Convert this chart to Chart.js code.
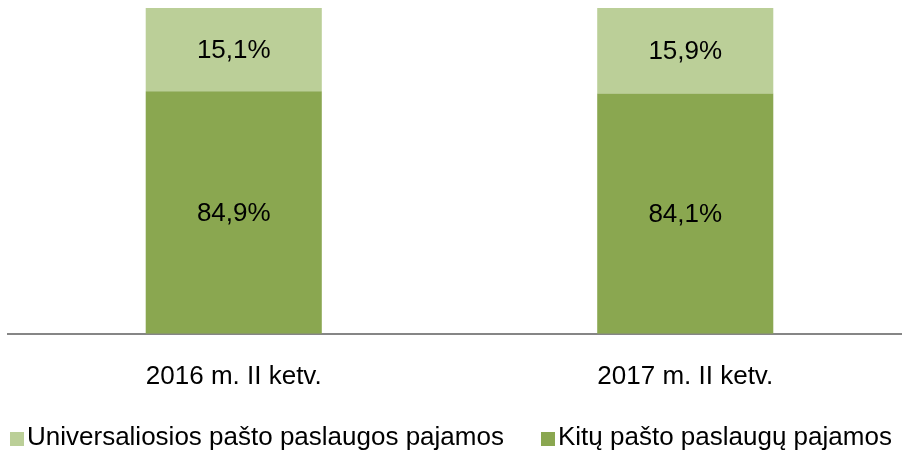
<!DOCTYPE html>
<html>
<head>
<meta charset="utf-8">
<script src="https://cdn.jsdelivr.net/npm/chart.js@4/dist/chart.umd.min.js"></script>
<style>
  html, body { margin: 0; padding: 0; background: #fff; overflow: hidden; }
  #wrap { position: relative; width: 911px; height: 460px; }
  #legend { position: absolute; left: 0; top: 421px; height: 30px; width: 911px;
            font: 26px "Liberation Sans", Arial, sans-serif; color: #000; line-height: 30px; }
  .item { position: absolute; top: 0; white-space: nowrap; }
  .box { display: inline-block; width: 14px; height: 14px; margin-right: 3px; vertical-align: -1px; }
</style>
</head>
<body>
<div id="wrap"><canvas id="c"></canvas><div id="legend"></div></div>
<script>
// ---- data ----
const categories = ['2016 m. II ketv.', '2017 m. II ketv.'];
const seriesNames = ['Kitų pašto paslaugų pajamos', 'Universaliosios pašto paslaugos pajamos'];
// Kitų pašto paslaugų pajamos (bottom segment)
const otherValues = [84.9, 84.1];
// Universaliosios pašto paslaugos pajamos: visible segment height
const universalHeights = [29.1, 29.9];
// value labels shown on the segments
const otherLabels = ['84,9%', '84,1%'];
const universalLabels = ['15,1%', '15,9%'];
const yMax = 114;

const FONT = '"Liberation Sans", Arial, sans-serif';
const colors = ['#8AA750', '#BBCF98'];

const labelPlugin = {
  id: 'segLabels',
  afterDatasetsDraw(chart) {
    const ctx = chart.ctx;
    const labelSets = [otherLabels, universalLabels];
    ctx.save();
    ctx.font = '26px ' + FONT;
    ctx.fillStyle = '#000';
    ctx.textAlign = 'center';
    ctx.textBaseline = 'middle';
    chart.data.datasets.forEach((ds, di) => {
      const meta = chart.getDatasetMeta(di);
      meta.data.forEach((bar, i) => {
        const p = bar.getProps(['x', 'y', 'base'], true);
        ctx.fillText(labelSets[di][i], p.x, (p.y + p.base) / 2 + 1);
      });
    });
    ctx.restore();
  }
};

new Chart(document.getElementById('c'), {
  type: 'bar',
  data: {
    labels: categories,
    datasets: [
      { label: seriesNames[0], data: otherValues, backgroundColor: colors[0], borderWidth: 0 },
      { label: seriesNames[1], data: universalHeights, backgroundColor: colors[1], borderWidth: 0 }
    ]
  },
  options: {
    responsive: true,
    maintainAspectRatio: false,
    animation: false,
    layout: { padding: { top: 8, left: 8, right: 0, bottom: 41 } },
    datasets: { bar: { barPercentage: 0.39, categoryPercentage: 1.0 } },
    scales: {
      x: {
        stacked: true,
        grid: { display: false, drawTicks: false },
        border: { display: true, color: '#868686', width: 2 },
        ticks: { color: '#000', font: { family: FONT, size: 26 }, padding: 27 }
      },
      y: {
        stacked: true,
        display: false,
        min: 0,
        max: yMax
      }
    },
    plugins: {
      legend: { display: false },
      tooltip: { enabled: false }
    }
  },
  plugins: [labelPlugin]
});

// legend (Universaliosios first, then Kitų)
const legendEl = document.getElementById('legend');
const legendOrder = [1, 0];
const legendLeft = [10, 541];
legendOrder.forEach((di, k) => {
  const item = document.createElement('span');
  item.className = 'item';
  item.style.left = legendLeft[k] + 'px';
  const box = document.createElement('span');
  box.className = 'box';
  box.style.background = colors[di];
  item.appendChild(box);
  item.appendChild(document.createTextNode(seriesNames[di]));
  legendEl.appendChild(item);
});
</script>
</body>
</html>
